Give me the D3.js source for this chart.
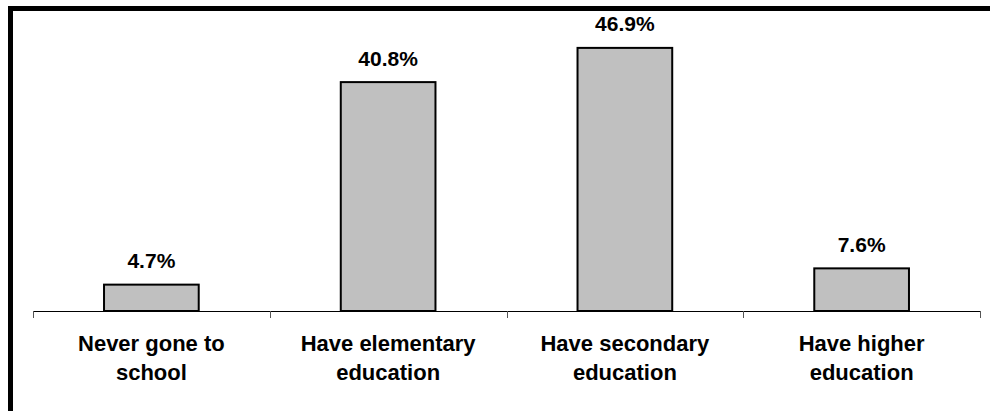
<!DOCTYPE html>
<html lang="en">

<head>
    <meta charset="UTF-8">
    <title>Education level</title>
    <script src="https://d3js.org/d3.v7.min.js"></script>
    <style>
        body {
            margin: 0;
            background: #fff;
        }

        text {
            font-family: "Liberation Sans", Arial, sans-serif;
            font-weight: bold;
            fill: #000;
        }

        .bar {
            fill: #c0c0c0;
            stroke: #000;
            stroke-width: 2px;
        }
    </style>
</head>

<body>
    <svg id="chart"></svg>

    <script>
        // Chart data
        const categories = [
            ['Never gone to', 'school'],
            ['Have elementary', 'education'],
            ['Have secondary', 'education'],
            ['Have higher', 'education']
        ];
        const values = [4.7, 40.8, 46.9, 7.6];
        const valueLabels = ['4.7%', '40.8%', '46.9%', '7.6%'];

        const width = 990;
        const height = 411;

        const svg = d3.select('#chart')
            .attr('width', width)
            .attr('height', height);

        // Frame (only top and left edges show in the picture)
        svg.append('path')
            .attr('d', 'M10.5,' + height + ' V8.5 H' + width)
            .attr('fill', 'none')
            .attr('stroke', '#000')
            .attr('stroke-width', 5);

        const x = d3.scaleBand()
            .domain(d3.range(categories.length))
            .range([33, 980])
            .paddingInner(0.6)
            .paddingOuter(0.3);

        const y = d3.scaleLinear()
            .domain([0, 50])
            .range([311, 30.5]);

        // Bars
        svg.selectAll('.bar')
            .data(values)
            .enter().append('rect')
            .attr('class', 'bar')
            .attr('x', (d, i) => x(i))
            .attr('y', d => y(d))
            .attr('width', x.bandwidth())
            .attr('height', d => y(0) - y(d));

        // Value labels
        svg.selectAll('.value')
            .data(values)
            .enter().append('text')
            .attr('class', 'value')
            .attr('x', (d, i) => x(i) + x.bandwidth() / 2)
            .attr('y', d => y(d) - 16.5)
            .attr('text-anchor', 'middle')
            .style('font-size', '21px')
            .text((d, i) => valueLabels[i]);

        // Category axis, ticks on the boundaries between categories
        const bounds = d3.range(categories.length + 1).map(i => 33 + i * (947 / categories.length));
        const axis = svg.append('g');
        axis.append('line')
            .attr('x1', 33).attr('x2', 980)
            .attr('y1', y(0) + 0.5).attr('y2', y(0) + 0.5)
            .attr('stroke', '#000')
            .attr('stroke-width', 1);
        axis.selectAll('.tick')
            .data(bounds)
            .enter().append('line')
            .attr('x1', d => Math.round(d) + 0.5).attr('x2', d => Math.round(d) + 0.5)
            .attr('y1', y(0)).attr('y2', y(0) + 7)
            .attr('stroke', '#555')
            .attr('stroke-width', 1);

        const catText = svg.selectAll('.cat')
            .data(categories)
            .enter().append('text')
            .attr('class', 'cat')
            .attr('text-anchor', 'middle')
            .style('font-size', '22px');

        catText.selectAll('tspan')
            .data((d, i) => d.map(line => ({ line, i })))
            .enter().append('tspan')
            .attr('x', d => x(d.i) + x.bandwidth() / 2)
            .attr('y', (d, j) => 351 + j * 29)
            .text(d => d.line);
    </script>

</body>

</html>
